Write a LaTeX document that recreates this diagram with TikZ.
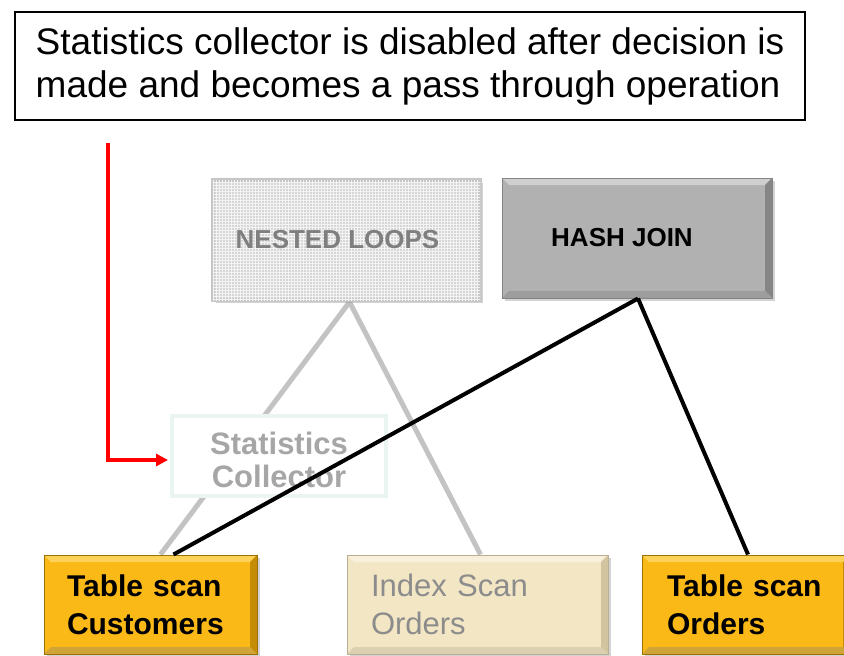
\documentclass[tikz,border=0pt]{standalone}
\usepackage{fontspec}
\setmainfont{Liberation Sans}
\usetikzlibrary{arrows.meta,shadows,patterns,backgrounds}

\definecolor{nlfill}{HTML}{D6D6D6}
\definecolor{nlline}{HTML}{C6C6C6}
\definecolor{nltext}{HTML}{7F7F7F}
\definecolor{hjfill}{HTML}{B1B1B1}
\definecolor{hjlight}{HTML}{CFCFCF}
\definecolor{hjdark}{HTML}{858585}
\definecolor{scline}{HTML}{EAF5F2}
\definecolor{sctext}{HTML}{A6A6A6}
\definecolor{scanfill}{HTML}{FBB917}
\definecolor{scanlight}{HTML}{FDD258}
\definecolor{scandark}{HTML}{C58D05}
\definecolor{idxfill}{HTML}{F2E6C4}
\definecolor{idxlight}{HTML}{F8F0DA}
\definecolor{idxdark}{HTML}{D2C49E}
\definecolor{idxtext}{HTML}{8C8C8C}
\definecolor{linkgray}{HTML}{C3C3C3}

\tikzset{
  bevelled/.style 2 args={path picture={
      \fill[#1] (path picture bounding box.north west) -- (path picture bounding box.north east)
        -- ([shift={(-7pt,-7pt)}]path picture bounding box.north east)
        -- ([shift={(7pt,-7pt)}]path picture bounding box.north west) -- cycle;
      \fill[#2] (path picture bounding box.north east) -- (path picture bounding box.south east)
        -- ([shift={(-7pt,7pt)}]path picture bounding box.south east)
        -- ([shift={(-7pt,-7pt)}]path picture bounding box.north east) -- cycle;
      \fill[#2!80!white] (path picture bounding box.south west) -- (path picture bounding box.south east)
        -- ([shift={(-7pt,7pt)}]path picture bounding box.south east)
        -- ([shift={(7pt,7pt)}]path picture bounding box.south west) -- cycle;
  }},
  opbox/.style={rectangle, line width=1pt, inner sep=0pt,
    drop shadow={opacity=0.35, shadow xshift=3pt, shadow yshift=-3pt}},
  scanbox/.style={opbox, fill=scanfill, draw=scandark!80!black, bevelled={scanlight}{scandark},
    minimum height=99pt, font=\fontsize{30}{38}\selectfont\bfseries, align=left},
  graylink/.style={linkgray, line width=5pt},
  blacklink/.style={black, line width=4pt}
}

\begin{document}
\begin{tikzpicture}[x=1pt, y=-1pt]
  \clip (0,0) rectangle (844,656);
  \useasboundingbox (0,0) rectangle (844,656);

  % Hinweis oben
  \node[draw, line width=1.5pt, minimum width=790pt, minimum height=108pt, align=left,
        font=\fontsize{37}{43}\selectfont] (note) at (410,66)
    {Statistics collector is disabled after decision is\\made and becomes a pass through operation};

  % Join-Operatoren
  \node[opbox, fill=nlfill, draw=nlline, line width=4pt, minimum width=267pt, minimum height=120pt,
        postaction={pattern=grid, pattern color=white!70!nlfill},
        font=\fontsize{26}{30}\selectfont\bfseries, text=nltext] (nl) at (346.5,240) {NESTED LOOPS\hspace*{18pt}};
  \node[opbox, fill=hjfill, draw=hjdark, bevelled={hjlight}{hjdark}, minimum width=270pt, minimum height=120pt,
        font=\fontsize{26}{30}\selectfont\bfseries] (hj) at (637,238) {\hspace*{-30pt}HASH JOIN};

  % Statistics Collector
  \node[fill=white, draw=scline, line width=4pt, minimum width=214pt, minimum height=80pt, align=center,
        font=\fontsize{31}{33}\selectfont\bfseries, text=sctext] (sc) at (279,456)
    {\raisebox{-4pt}[\height][\depth]{\parbox{170pt}{\centering Statistics\\Collector}}};

  % Scans
  \node[scanbox, inner xsep=23pt, text width=167pt] (cust) at (150.5,604.5) {Table scan\\Customers};
  \node[opbox, fill=idxfill, draw=idxdark!70!gray, bevelled={idxlight}{idxdark}, minimum height=99pt,
        inner xsep=24pt, text width=213pt, align=left, font=\fontsize{31}{38}\selectfont, text=idxtext]
        (idx) at (477.5,604.5) {Index Scan\\Orders};
  \node[scanbox, inner xsep=25pt, text width=158pt] (ord) at (746,604.5) {Table scan\\Orders};

  % graue Kanten (hinter dem Collector)
  \begin{scope}[on background layer]
    \draw[graylink] ([xshift=3pt]nl.south) -- ([xshift=10pt]cust.north);
    \draw[graylink] ([xshift=3pt]nl.south) -- ([xshift=3pt]idx.north);
  \end{scope}

  % schwarze Kanten
  \draw[blacklink] ([xshift=1pt]hj.south) -- ([xshift=23pt]cust.north);
  \draw[blacklink] ([xshift=1pt]hj.south) -- ([xshift=2pt]ord.north);

  % roter Pfeil
  \coordinate (redstart) at (108,143);
  \draw[red, line width=3.5pt, -{Triangle[length=12pt,width=12pt]}] (redstart) |- ([xshift=-2pt,yshift=-4pt]sc.west);
\end{tikzpicture}
\end{document}
